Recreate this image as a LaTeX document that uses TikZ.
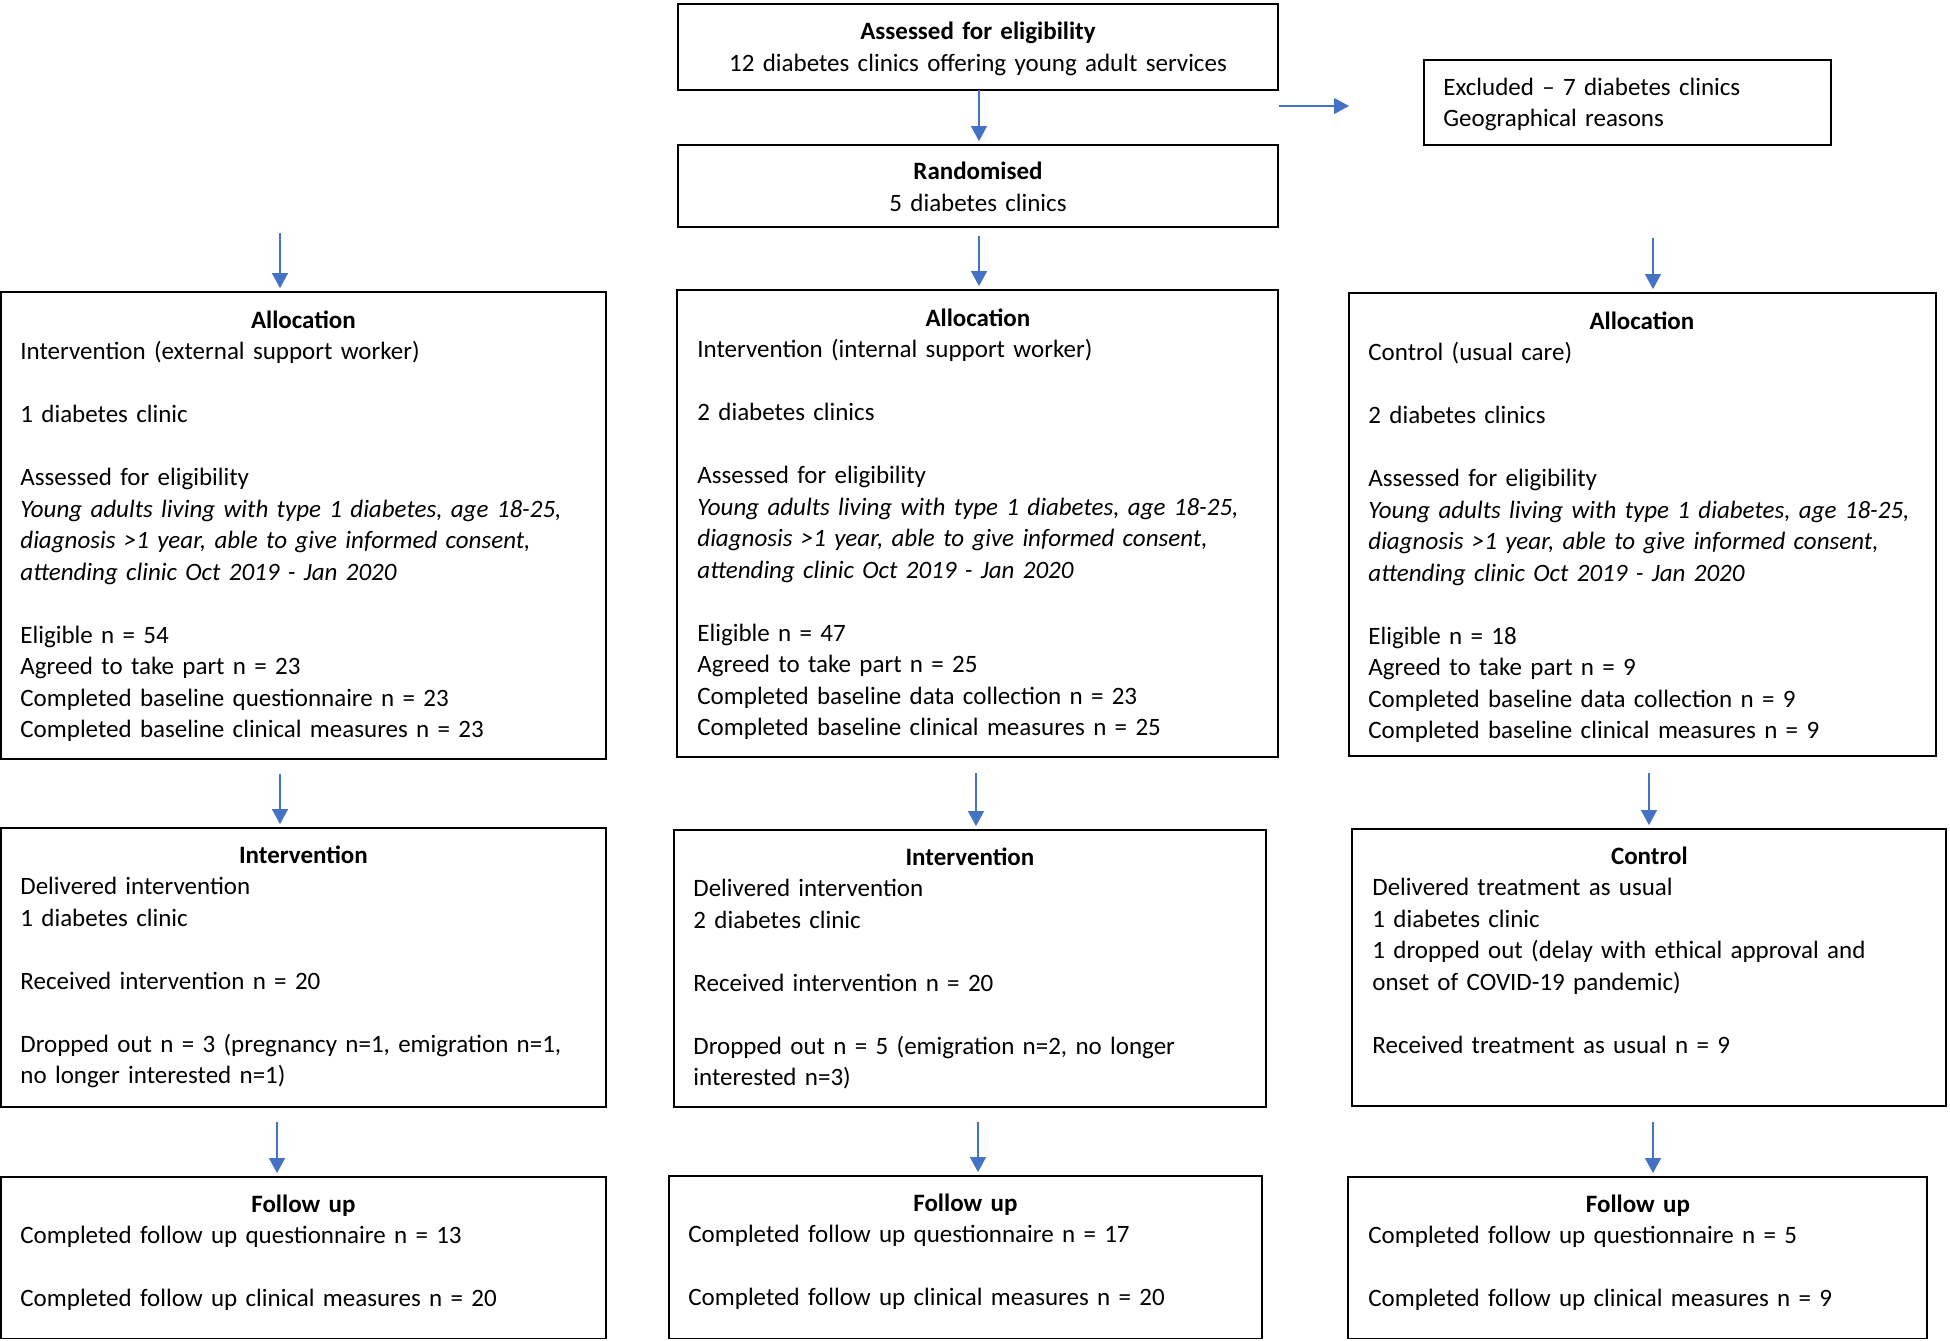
\documentclass[tikz,border=0pt]{standalone}
\usepackage{fontspec}
\setmainfont{Carlito}
\usetikzlibrary{arrows.meta,fit}
\definecolor{arrblue}{RGB}{68,114,196}
\tikzset{
  boxr/.style={draw=black, line width=0.9pt, rectangle, inner sep=0pt},
  txt/.style={inner sep=0pt, anchor=base west, align=left, yshift=-1.2pt,
    font=\fontsize{12.5pt}{15.75pt}\selectfont},
  ctxt/.style={inner sep=0pt, anchor=base, align=center, yshift=-1.2pt,
    font=\fontsize{12.5pt}{16pt}\selectfont},
  arr/.style={draw=arrblue, line width=0.6pt, -{Triangle[length=7.5pt,width=8pt]}, shorten >=1.5pt},
}
\newcommand{\bx}[5]{% name, x1, y1, x2, y2
  \path (#2,#3) coordinate (#1nw) (#4,#5) coordinate (#1se);
  \node[boxr, fit=(#1nw)(#1se)] (#1) {};}
\newcommand{\ttl}[1]{\leavevmode\makebox[\dimexpr\linewidth-10pt\relax]{\textbf{#1}}}
\newcommand{\blank}{\mbox{}}
\begin{document}
\begin{tikzpicture}[x=0.5pt,y=-0.5pt]
\useasboundingbox (0,0) rectangle (1950,1340);
% top boxes
\bx{top}{678}{4}{1278}{90}
\bx{rand}{678}{145}{1278}{227}
\bx{excl}{1424}{60}{1831}{145}
\node[ctxt, text width=600*0.5pt] (topt) at (978,37) {\textbf{Assessed for eligibility}\\12 diabetes clinics offering young adult services};
\node[ctxt, text width=600*0.5pt] (randt) at (978,177) {\textbf{Randomised}\\5 diabetes clinics};
\node[txt, text width=380*0.5pt] (exclt) at (1443,93) {Excluded -- 7 diabetes clinics\\Geographical reasons};
% allocation row
\bx{al}{1}{292}{606}{759}
\bx{am}{677}{290}{1278}{757}
\bx{ar}{1349}{293}{1936}{756}
\newcommand{\albody}[2]{#1\\ \blank\\ #2\\ \blank\\ Assessed for eligibility\\
  \textit{Young adults living with type 1 diabetes, age 18-25,}\\
  \textit{diagnosis >1 year, able to give informed consent,}\\
  \textit{attending clinic Oct 2019 - Jan 2020}\\ \blank\\}
\node[txt, text width=586*0.5pt] (alt) at (20,326) {\ttl{Allocation}\\
  \albody{Intervention (external support worker)}{1 diabetes clinic}
  Eligible n = 54\\ Agreed to take part n = 23\\ Completed baseline questionnaire n = 23\\ Completed baseline clinical measures n = 23};
\node[txt, text width=581*0.5pt] (amt) at (697,324) {\ttl{Allocation}\\
  \albody{Intervention (internal support worker)}{2 diabetes clinics}
  Eligible n = 47\\ Agreed to take part n = 25\\ Completed baseline data collection n = 23\\ Completed baseline clinical measures n = 25};
\node[txt, text width=567*0.5pt] (art) at (1368,327) {\ttl{Allocation}\\
  \albody{Control (usual care)}{2 diabetes clinics}
  Eligible n = 18\\ Agreed to take part n = 9\\ Completed baseline data collection n = 9\\ Completed baseline clinical measures n = 9};
% intervention row
\bx{il}{1}{828}{606}{1107}
\bx{im}{674}{830}{1266}{1107}
\bx{ir}{1352}{829}{1946}{1106}
\node[txt, text width=586*0.5pt] (ilt) at (20,861) {\ttl{Intervention}\\
  Delivered intervention\\ 1 diabetes clinic\\ \blank\\ Received intervention n = 20\\ \blank\\
  Dropped out n = 3 (pregnancy n=1, emigration n=1,\\ no longer interested n=1)};
\node[txt, text width=573*0.5pt] (imt) at (693,863) {\ttl{Intervention}\\
  Delivered intervention\\ 2 diabetes clinic\\ \blank\\ Received intervention n = 20\\ \blank\\
  Dropped out n = 5 (emigration n=2, no longer\\ interested n=3)};
\node[txt, text width=574*0.5pt] (irt) at (1372,862) {\ttl{Control}\\
  Delivered treatment as usual\\ 1 diabetes clinic\\ 1 dropped out (delay with ethical approval and\\
  onset of COVID-19 pandemic)\\ \blank\\ Received treatment as usual n = 9};
% follow up row
\bx{fl}{1}{1177}{606}{1338.5}
\bx{fm}{669}{1176}{1262}{1338.5}
\bx{fr}{1348}{1177}{1927}{1338.5}
\node[txt, text width=586*0.5pt] (flt) at (20,1210) {\ttl{Follow up}\\
  Completed follow up questionnaire n = 13\\ \blank\\ Completed follow up clinical measures n = 20};
\node[txt, text width=574*0.5pt] (fmt) at (688,1209) {\ttl{Follow up}\\
  Completed follow up questionnaire n = 17\\ \blank\\ Completed follow up clinical measures n = 20};
\node[txt, text width=559*0.5pt] (frt) at (1368,1210) {\ttl{Follow up}\\
  Completed follow up questionnaire n = 5\\ \blank\\ Completed follow up clinical measures n = 9};
% connectors
\coordinate (c0) at (979,90);
\draw[arr] (c0) -- (c0 |- rand.north);
\coordinate (e0) at (1279,106);
\coordinate (e1) at (1349,106);
\draw[arr, shorten >=0pt] (e0) -- (e1);
\coordinate (a1) at (280,233);
\coordinate (a2) at (979,236);
\coordinate (a3) at (1653,238);
\draw[arr] (a1) -- (a1 |- al.north);
\draw[arr] (a2) -- (a2 |- am.north);
\draw[arr] (a3) -- (a3 |- ar.north);
\coordinate (b1) at (280,774);
\coordinate (b2) at (976,773);
\coordinate (b3) at (1649,773);
\draw[arr] (b1) -- (b1 |- il.north);
\draw[arr] (b2) -- (b2 |- im.north);
\draw[arr] (b3) -- (b3 |- ir.north);
\coordinate (d1) at (277,1122);
\coordinate (d2) at (978,1122);
\coordinate (d3) at (1653,1122);
\draw[arr] (d1) -- (d1 |- fl.north);
\draw[arr] (d2) -- (d2 |- fm.north);
\draw[arr] (d3) -- (d3 |- fr.north);
\end{tikzpicture}
\end{document}
